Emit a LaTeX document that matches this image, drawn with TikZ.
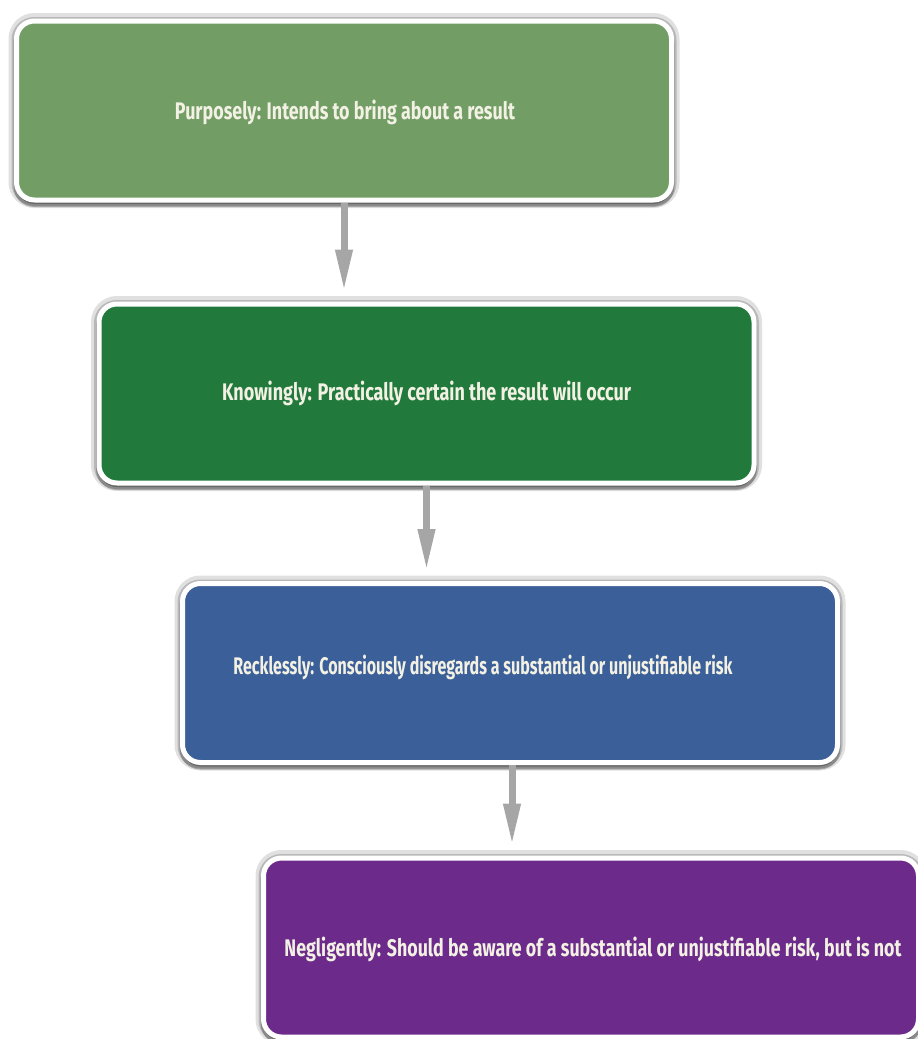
\documentclass[tikz,border=0pt]{standalone}
\usepackage{fontspec}
\setmainfont{Fira Sans}
\usepackage{graphicx}
\usetikzlibrary{arrows.meta,shadows}

\definecolor{purposecol}{RGB}{114,158,102}
\definecolor{knowcol}{RGB}{33,122,60}
\definecolor{recklesscol}{RGB}{59,95,152}
\definecolor{negligentcol}{RGB}{108,43,138}
\definecolor{labelcol}{RGB}{243,241,228}

\newcommand{\squeeze}[2]{\resizebox{#1}{\height}{#2}}

\tikzset{
  stage/.style={draw=white, line width=5pt, rounded corners=18pt,
    minimum width=655pt, minimum height=179pt, inner sep=0pt,
    general shadow={shadow xshift=0pt, shadow yshift=0pt, opacity=0.12,
      fill=black, draw=black, line width=16pt},
    general shadow={shadow xshift=0pt, shadow yshift=-1pt, opacity=0.18,
      fill=black, draw=black, line width=10pt},
    general shadow={shadow xshift=0pt, shadow yshift=-4pt, opacity=0.25,
      fill=black, draw=black, line width=6pt}},
  stagetext/.style={text=labelcol, inner sep=0pt,
    font=\bfseries\fontsize{24}{28}\selectfont},
  flow/.style={draw=gray!70, line width=7pt,
    -{Triangle[length=42pt,width=16pt]}, shorten >=10pt}
}

\begin{document}
\begin{tikzpicture}[x=1pt,y=1pt]
\useasboundingbox (0,0) rectangle (918,-1039);
% the four levels
\node[stage, fill=purposecol] (purpose) at (344,-110.5) {};
\node[stagetext] (purposetext) at (345,-112) {\squeeze{340pt}{Purposely: Intends to bring about a result}};
\node[stage, fill=knowcol] (know) at (426.5,-393.5) {};
\node[stagetext] (knowtext) at (426.5,-393) {\squeeze{409pt}{Knowingly: Practically certain the result will occur}};
\node[stage, fill=recklesscol] (reckless) at (510,-673) {};
\node[stagetext] (recklesstext) at (483,-667) {\squeeze{499pt}{Recklessly: Consciously disregards a substantial or unjustifiable risk}};
\node[stage, fill=negligentcol] (negligent) at (591,-947.5) {};
\node[stagetext] (negligenttext) at (593,-949) {\squeeze{617pt}{Negligently: Should be aware of a substantial or unjustifiable risk, but is not}};
% arrows
\draw[flow] (purpose.south) -- (purpose.south |- know.north);
\draw[flow] (know.south) -- (know.south |- reckless.north);
\draw[flow] ([xshift=2pt]reckless.south) -- ([xshift=2pt]reckless.south |- negligent.north);
\end{tikzpicture}
\end{document}
